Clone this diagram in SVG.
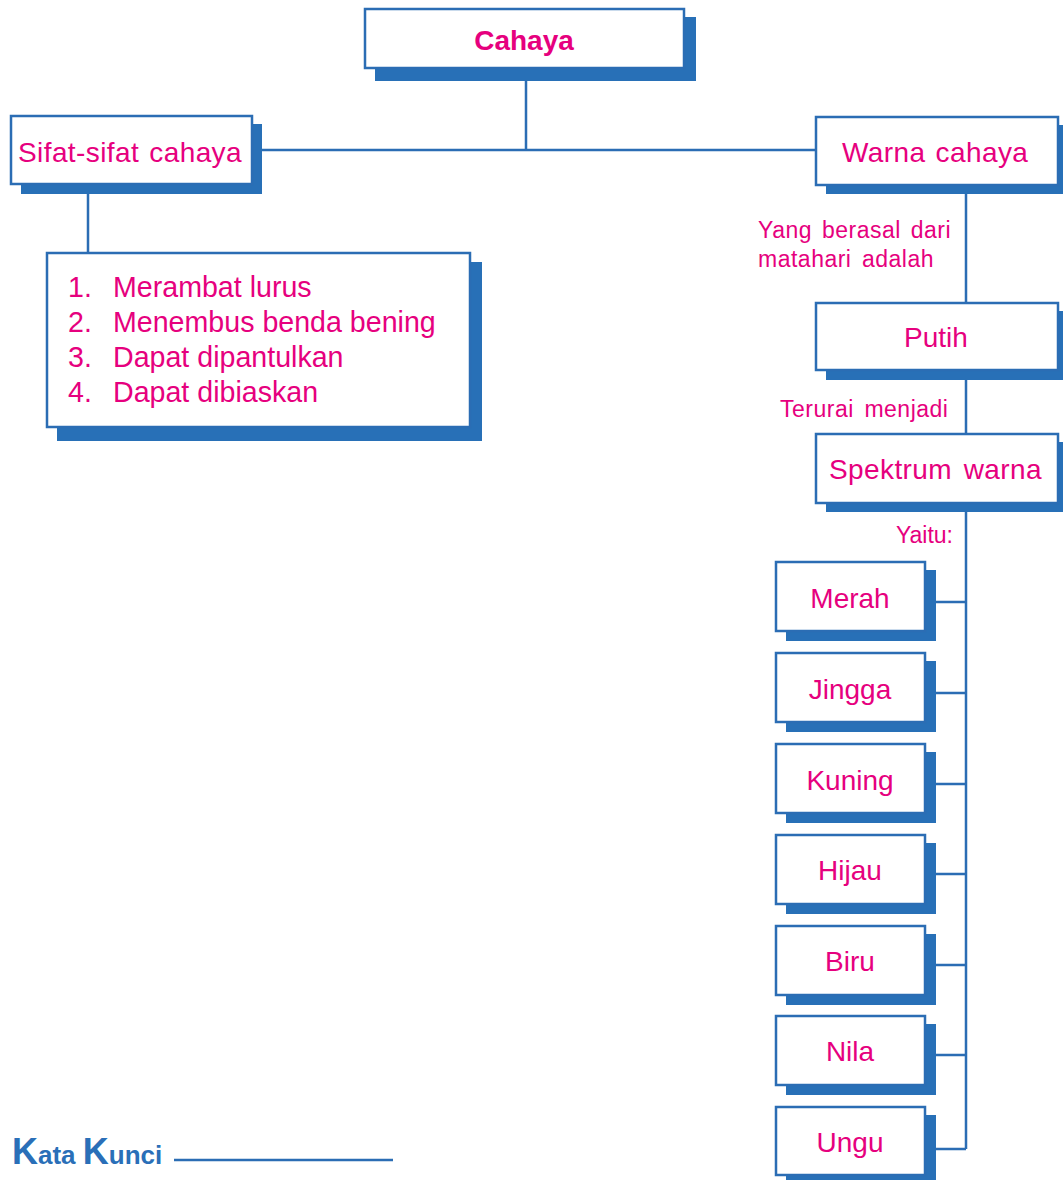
<svg xmlns="http://www.w3.org/2000/svg" width="1063" height="1180" viewBox="0 0 1063 1180">
<style>
.box{fill:#fff;stroke:#2b6db4;stroke-width:2.5}
.sh{fill:#2870b7}
.lbl{font-family:"Liberation Sans",Arial,sans-serif;font-size:28px;fill:#e6007e}
.lst{font-size:28.6px}
.lc{text-anchor:middle}
.ls{letter-spacing:0.4px}
.sm{font-family:"Liberation Sans",Arial,sans-serif;font-size:23px;fill:#e6007e}
.sl{letter-spacing:0.5px}
.cn{fill:none;stroke:#2b6db4;stroke-width:2.5}
.kk{font-family:"Liberation Sans",Arial,sans-serif;font-weight:bold;fill:#2a6fb8}
</style>
<rect width="1063" height="1180" fill="#fff"/>
<g id="connectors">
<path class="cn" d="M526 81V150M262 150H816M88 194V253M966 194V303M966 380V434M966 512V1149"/>
<path class="cn" d="M936 602H966M936 693H966M936 784H966M936 874H966M936 965H966M936 1055H966M936 1149H966"/>
</g>
<g id="node-cahaya">
<rect class="sh" x="375" y="17" width="321" height="64"/>
<rect class="box" x="365" y="9" width="319" height="59"/>
<text class="lbl lc" x="524" y="50" font-weight="bold">Cahaya</text>
</g>
<g id="node-sifat">
<rect class="sh" x="21" y="124" width="241" height="70"/>
<rect class="box" x="11" y="116" width="241" height="68"/>
<text class="lbl ls" x="18" y="162" word-spacing="2">Sifat-sifat cahaya</text>
</g>
<g id="node-list">
<rect class="sh" x="57" y="262" width="425" height="179"/>
<rect class="box" x="47" y="253" width="423" height="174"/>
<text class="lbl lst" x="68" y="297">1.</text>
<text class="lbl lst" x="113" y="297">Merambat lurus</text>
<text class="lbl lst" x="68" y="332">2.</text>
<text class="lbl lst" x="113" y="332">Menembus benda bening</text>
<text class="lbl lst" x="68" y="367">3.</text>
<text class="lbl lst" x="113" y="367">Dapat dipantulkan</text>
<text class="lbl lst" x="68" y="402">4.</text>
<text class="lbl lst" x="113" y="402">Dapat dibiaskan</text>
</g>
<g id="node-warna">
<rect class="sh" x="826" y="125" width="243" height="69"/>
<rect class="box" x="816" y="117" width="242" height="68"/>
<text class="lbl ls" x="842" y="162" word-spacing="2">Warna cahaya</text>
</g>
<text class="sm sl" x="758" y="238" word-spacing="3">Yang berasal dari</text>
<text class="sm sl" x="758" y="267" word-spacing="3.6">matahari adalah</text>
<g id="node-putih">
<rect class="sh" x="826" y="311" width="243" height="69"/>
<rect class="box" x="816" y="303" width="242" height="67"/>
<text class="lbl lc" x="936" y="347">Putih</text>
</g>
<text class="sm sl" x="780" y="417" word-spacing="3.7">Terurai menjadi</text>
<g id="node-spektrum">
<rect class="sh" x="826" y="442" width="243" height="70"/>
<rect class="box" x="816" y="434" width="242" height="69"/>
<text class="lbl ls" x="829" y="479" word-spacing="3.5">Spektrum warna</text>
</g>
<text class="sm" x="953" y="543" text-anchor="end">Yaitu:</text>
<g id="node-merah">
<rect class="sh" x="786" y="570" width="150" height="71"/>
<rect class="box" x="776" y="562" width="149" height="69"/>
<text class="lbl lc" x="850" y="608">Merah</text>
</g>
<g id="node-jingga">
<rect class="sh" x="786" y="661" width="150" height="71"/>
<rect class="box" x="776" y="653" width="149" height="69"/>
<text class="lbl lc" x="850" y="699">Jingga</text>
</g>
<g id="node-kuning">
<rect class="sh" x="786" y="752" width="150" height="71"/>
<rect class="box" x="776" y="744" width="149" height="69"/>
<text class="lbl lc" x="850" y="790">Kuning</text>
</g>
<g id="node-hijau">
<rect class="sh" x="786" y="843" width="150" height="71"/>
<rect class="box" x="776" y="835" width="149" height="69"/>
<text class="lbl lc" x="850" y="880">Hijau</text>
</g>
<g id="node-biru">
<rect class="sh" x="786" y="934" width="150" height="71"/>
<rect class="box" x="776" y="926" width="149" height="69"/>
<text class="lbl lc" x="850" y="971">Biru</text>
</g>
<g id="node-nila">
<rect class="sh" x="786" y="1024" width="150" height="71"/>
<rect class="box" x="776" y="1016" width="149" height="69"/>
<text class="lbl lc" x="850" y="1061">Nila</text>
</g>
<g id="node-ungu">
<rect class="sh" x="786" y="1115" width="150" height="71"/>
<rect class="box" x="776" y="1107" width="149" height="68"/>
<text class="lbl lc" x="850" y="1152">Ungu</text>
</g>
<g id="kata-kunci">
<text class="kk" x="12" y="1164"><tspan font-size="36">K</tspan><tspan font-size="26">ata </tspan><tspan font-size="36">K</tspan><tspan font-size="26">unci</tspan></text>
<path class="cn" d="M174 1160H393"/>
</g>
</svg>
